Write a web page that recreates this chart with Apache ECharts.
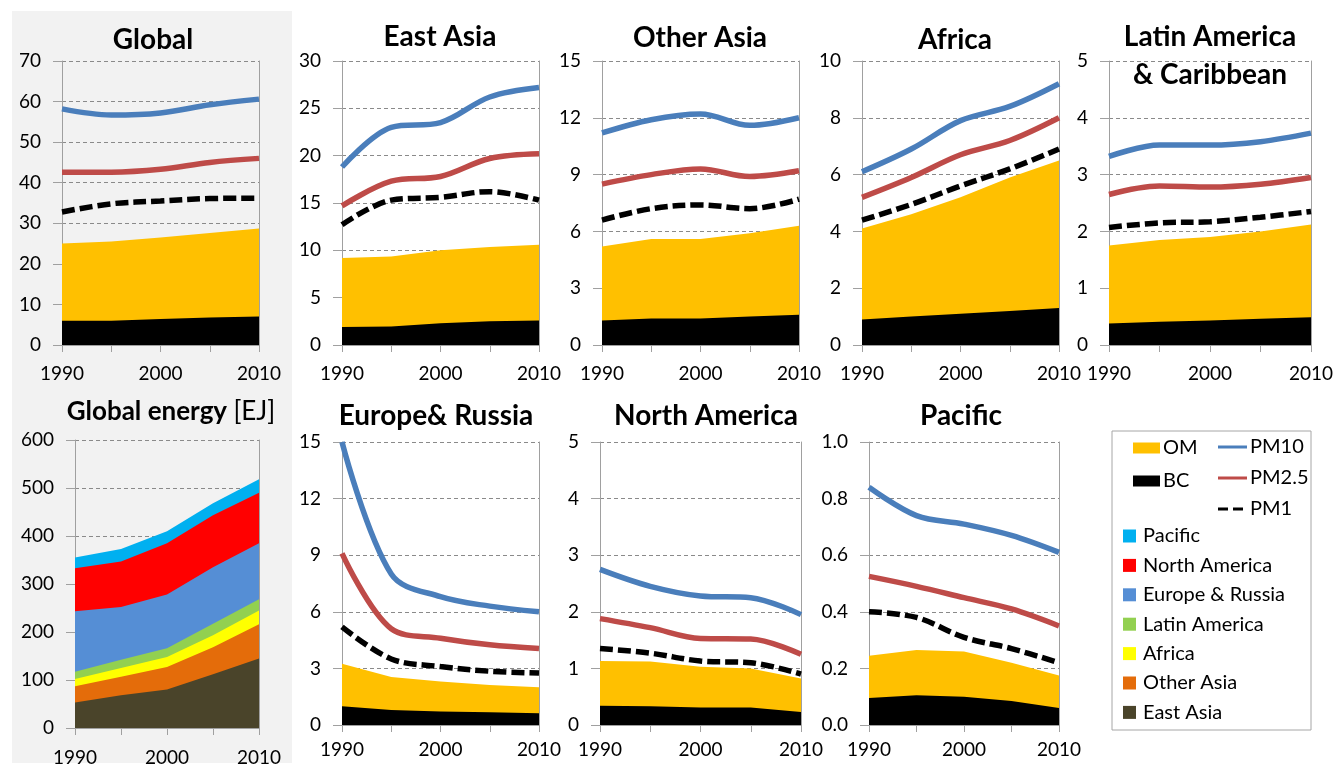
<!DOCTYPE html>
<html><head><meta charset="utf-8">
<script src="https://cdn.jsdelivr.net/npm/echarts@6/dist/echarts.min.js"></script>
<style>html,body{margin:0;padding:0;background:#fff}#c{width:1337px;height:767px}</style>
</head><body><div id="c"></div>
<script>
// ---------- DATA ----------
const years = [1990, 1995, 2000, 2005, 2010];

// Global
const globalBC   = [6.0, 6.0, 6.4, 6.8, 7.0];
const globalOM   = [19.0, 19.5, 20.1, 20.8, 21.7];
const globalPM1  = [32.8, 34.8, 35.5, 36.1, 36.2];
const globalPM25 = [42.6, 42.6, 43.3, 45.0, 46.0];
const globalPM10 = [58.2, 56.7, 57.2, 59.2, 60.6];
// East Asia
const eastAsiaBC   = [1.9, 1.95, 2.3, 2.5, 2.6];
const eastAsiaOM   = [7.3, 7.4, 7.7, 7.85, 8.0];
const eastAsiaPM1  = [12.7, 15.3, 15.6, 16.2, 15.3];
const eastAsiaPM25 = [14.7, 17.3, 17.8, 19.7, 20.2];
const eastAsiaPM10 = [18.8, 23.0, 23.5, 26.2, 27.2];
// Other Asia
const otherAsiaBC   = [1.3, 1.4, 1.4, 1.5, 1.6];
const otherAsiaOM   = [3.9, 4.2, 4.2, 4.4, 4.7];
const otherAsiaPM1  = [6.6, 7.2, 7.4, 7.2, 7.7];
const otherAsiaPM25 = [8.5, 9.0, 9.3, 8.9, 9.2];
const otherAsiaPM10 = [11.2, 11.9, 12.2, 11.6, 12.0];
// Africa
const africaBC   = [0.9, 1.0, 1.1, 1.2, 1.3];
const africaOM   = [3.2, 3.6, 4.1, 4.7, 5.2];
const africaPM1  = [4.4, 4.95, 5.6, 6.2, 6.9];
const africaPM25 = [5.2, 5.9, 6.7, 7.2, 8.0];
const africaPM10 = [6.1, 6.9, 7.9, 8.4, 9.2];
// Latin America & Caribbean
const latamBC   = [0.38, 0.41, 0.43, 0.46, 0.49];
const latamOM   = [1.37, 1.44, 1.47, 1.54, 1.63];
const latamPM1  = [2.07, 2.15, 2.17, 2.25, 2.35];
const latamPM25 = [2.65, 2.8, 2.78, 2.83, 2.95];
const latamPM10 = [3.32, 3.52, 3.52, 3.58, 3.73];
// Europe & Russia
const europeBC   = [1.0, 0.8, 0.72, 0.68, 0.62];
const europeOM   = [2.25, 1.75, 1.58, 1.44, 1.38];
const europePM1  = [5.2, 3.5, 3.1, 2.85, 2.75];
const europePM25 = [9.1, 5.1, 4.6, 4.25, 4.05];
const europePM10 = [15.0, 8.0, 6.8, 6.3, 6.0];
// North America
const northAmBC   = [0.34, 0.33, 0.31, 0.31, 0.23];
const northAmOM   = [0.79, 0.79, 0.72, 0.69, 0.59];
const northAmPM1  = [1.35, 1.27, 1.13, 1.1, 0.9];
const northAmPM25 = [1.88, 1.72, 1.53, 1.52, 1.25];
const northAmPM10 = [2.75, 2.45, 2.28, 2.25, 1.95];
// Pacific
const pacificBC   = [0.095, 0.105, 0.10, 0.085, 0.06];
const pacificOM   = [0.15, 0.16, 0.16, 0.135, 0.115];
const pacificPM1  = [0.40, 0.38, 0.31, 0.27, 0.22];
const pacificPM25 = [0.525, 0.49, 0.45, 0.41, 0.35];
const pacificPM10 = [0.84, 0.74, 0.71, 0.67, 0.61];

// Global energy [EJ] (stacked, by region, bottom to top)
const energyRegions = ['East Asia', 'Other Asia', 'Africa', 'Latin America', 'Europe & Russia', 'North America', 'Pacific'];
const energyEastAsia  = [53, 68, 80, 112, 145];
const energyOtherAsia = [34, 39, 47, 56, 71];
const energyAfrica    = [15, 18, 21, 25, 29];
const energyLatAm     = [15, 17, 18, 24, 23];
const energyEurope    = [126, 110, 112, 118, 117];
const energyNorthAm   = [90, 95, 107, 108, 105];
const energyPacific   = [22, 26, 25, 25, 28];

// axis ranges
const yMax      = [70, 30, 15, 10, 5, 15, 5, 1.0];
const yInterval = [10, 5, 3, 2, 1, 3, 1, 0.2];
const energyMax = 600, energyInterval = 100;

// ---------- STYLE / LAYOUT ----------
const FONT = 'Lato';
const C_PM10 = '#4a7ebb', C_PM25 = '#be4b48', C_PM1 = '#000000', C_OM = '#ffc000', C_BC = '#000000';
const regionColors = ['#4a442a', '#e46c0a', '#ffff00', '#92d050', '#558ed5', '#ff0000', '#00b0f0'];

const pmPanels = [
  {title: 'Global',         bc: globalBC,    om: globalOM,    pm1: globalPM1,    pm25: globalPM25,    pm10: globalPM10},
  {title: 'East Asia',      bc: eastAsiaBC,  om: eastAsiaOM,  pm1: eastAsiaPM1,  pm25: eastAsiaPM25,  pm10: eastAsiaPM10},
  {title: 'Other Asia',     bc: otherAsiaBC, om: otherAsiaOM, pm1: otherAsiaPM1, pm25: otherAsiaPM25, pm10: otherAsiaPM10},
  {title: 'Africa',         bc: africaBC,    om: africaOM,    pm1: africaPM1,    pm25: africaPM25,    pm10: africaPM10},
  {title: 'Latin America\n& Caribbean', bc: latamBC, om: latamOM, pm1: latamPM1, pm25: latamPM25, pm10: latamPM10},
  {title: 'Europe& Russia', bc: europeBC,    om: europeOM,    pm1: europePM1,    pm25: europePM25,    pm10: europePM10},
  {title: 'North America',  bc: northAmBC,   om: northAmOM,   pm1: northAmPM1,   pm25: northAmPM25,   pm10: northAmPM10},
  {title: 'Pacific',        bc: pacificBC,   om: pacificOM,   pm1: pacificPM1,   pm25: pacificPM25,   pm10: pacificPM10}
];
const pmLayout = [
  {grid: {left: 62,  top: 61,  width: 197, height: 284}, tx: 153,  ty: 40,  xm: 19},
  {grid: {left: 342, top: 61,  width: 197, height: 284}, tx: 440,  ty: 37,  xm: 19},
  {grid: {left: 602, top: 61,  width: 197, height: 284}, tx: 700,  ty: 38,  xm: 19},
  {grid: {left: 862, top: 61,  width: 197, height: 284}, tx: 955,  ty: 40,  xm: 19},
  {grid: {left: 1109, top: 61, width: 202, height: 284}, tx: 1210, ty: 56,  xm: 19},
  {grid: {left: 342, top: 442, width: 197, height: 283}, tx: 436,  ty: 416, xm: 15},
  {grid: {left: 600, top: 442, width: 201, height: 283}, tx: 706,  ty: 416, xm: 15},
  {grid: {left: 869, top: 442, width: 190, height: 283}, tx: 961,  ty: 416, xm: 15}
];
const energyLayout = {grid: {left: 75, top: 440, width: 184, height: 288}, tx: 171, ty: 412, xm: 20};

const AXIS_COLOR = '#a0a0a0';
const GRID_LINE = '#8a8a8a';
const TICK_FS = 19, TITLE_FS = 28, ENERGY_TITLE_FS = 26, LEGEND_FS = 20, LINE_W = 5.5;

function xAxisFor(gi, margin) {
  return {
    type: 'value', gridIndex: gi, min: 1990, max: 2010, interval: 5,
    axisLine: {show: true, lineStyle: {color: AXIS_COLOR, width: 1}},
    axisTick: {show: true, length: 7, lineStyle: {color: AXIS_COLOR}},
    axisLabel: {margin: margin, fontFamily: FONT, fontSize: TICK_FS, color: '#000',
      formatter: v => (v % 10 === 0 ? String(v) : '')},
    splitLine: {show: false}
  };
}
function yAxesFor(gi, max, interval, decimals) {
  return [{
    type: 'value', gridIndex: gi, min: 0, max: max, interval: interval,
    axisLine: {show: true, lineStyle: {color: AXIS_COLOR, width: 1}},
    axisTick: {show: true, length: 9, lineStyle: {color: AXIS_COLOR}},
    axisLabel: {margin: 21, fontFamily: FONT, fontSize: TICK_FS, color: '#000',
      formatter: v => v.toFixed(decimals)},
    splitLine: {show: true, lineStyle: {color: GRID_LINE, type: [4, 3], width: 1}}
  }, {
    type: 'value', gridIndex: gi, min: 0, max: max, position: 'right',
    axisLine: {show: true, onZero: false, lineStyle: {color: AXIS_COLOR, width: 1}},
    axisTick: {show: false}, axisLabel: {show: false}, splitLine: {show: false}
  }];
}
const pts = arr => years.map((y, k) => [y, arr[k]]);
// cumulative tops of stacked layers (bottom to top)
function cumulate(layers) {
  const out = []; let run = years.map(() => 0);
  layers.forEach(l => { run = run.map((v, k) => v + l[k]); out.push(run.slice()); });
  return out;
}

const grids = [], xAxes = [], yAxes = [], series = [], titles = [];
const titleStyle = {fontFamily: FONT, fontWeight: 'bold', fontSize: TITLE_FS, color: '#000', lineHeight: 38};

pmPanels.forEach((p, i) => {
  const L = pmLayout[i];
  grids.push(Object.assign({containLabel: false}, L.grid));
  xAxes.push(xAxisFor(i, L.xm));
  yAxes.push(...yAxesFor(i, yMax[i], yInterval[i], i === 7 ? 1 : 0));
  titles.push({text: p.title, left: L.tx, top: L.ty, textAlign: 'center', textVerticalAlign: 'middle', padding: 0, textStyle: titleStyle});
  const yi = 2 * i;
  const area = (name, data, color) => ({
    name, type: 'line', xAxisIndex: i, yAxisIndex: yi, data: pts(data),
    symbol: 'none', lineStyle: {width: 0}, areaStyle: {color, opacity: 1, origin: 'start'}, z: 2, silent: true
  });
  const line = (name, data, color, dash) => ({
    name, type: 'line', xAxisIndex: i, yAxisIndex: yi, data: pts(data), smooth: 0.35,
    symbol: 'none', lineStyle: {width: LINE_W, color, type: dash || 'solid', cap: 'butt'}, z: 3, silent: true
  });
  const tops = cumulate([p.bc, p.om]);
  // paint top layer first so lower layers cover it
  series.push(area('OM', tops[1], C_OM), area('BC', tops[0], C_BC),
    line('PM10', p.pm10, C_PM10), line('PM2.5', p.pm25, C_PM25), line('PM1', p.pm1, C_PM1, [13, 5]));
});

// Global energy panel
const ei = pmPanels.length;
grids.push(Object.assign({containLabel: false}, energyLayout.grid));
xAxes.push(xAxisFor(ei, energyLayout.xm));
yAxes.push(...yAxesFor(ei, energyMax, energyInterval, 0));
titles.push({text: '{b|Global energy} {n|[EJ]}', left: energyLayout.tx, top: energyLayout.ty, textAlign: 'center', textVerticalAlign: 'middle', padding: 0,
  textStyle: {fontFamily: FONT, fontSize: ENERGY_TITLE_FS, color: '#000',
    rich: {b: {fontFamily: FONT, fontSize: ENERGY_TITLE_FS, fontWeight: 'bold', color: '#000'}, n: {fontFamily: FONT, fontSize: ENERGY_TITLE_FS, fontWeight: 'normal', color: '#000'}}}});
const energyData = [energyEastAsia, energyOtherAsia, energyAfrica, energyLatAm, energyEurope, energyNorthAm, energyPacific];
const energyTops = cumulate(energyData);
for (let k = energyTops.length - 1; k >= 0; k--) {
  series.push({name: energyRegions[k], type: 'line', xAxisIndex: ei, yAxisIndex: 2 * ei, data: pts(energyTops[k]),
    symbol: 'none', lineStyle: {width: 0}, areaStyle: {color: regionColors[k], opacity: 1, origin: 'start'}, z: 2, silent: true});
}

// ---------- LEGEND (graphic) ----------
const legendBox = {x: 1112, y: 431, w: 199, h: 299};
const fillItems = [{name: 'OM', color: C_OM}, {name: 'BC', color: C_BC}];
const lineItems = [{name: 'PM10', color: C_PM10, dash: null}, {name: 'PM2.5', color: C_PM25, dash: null}, {name: 'PM1', color: C_PM1, dash: [10, 5]}];
const regionLegendOrder = [6, 5, 4, 3, 2, 1, 0];
const gEls = [];
gEls.push({type: 'rect', z: -100, silent: true, shape: {x: 12, y: 11, width: 280, height: 752}, style: {fill: '#f2f2f2'}});
gEls.push({type: 'rect', z: 10, silent: true, shape: {x: legendBox.x, y: legendBox.y, width: legendBox.w, height: legendBox.h}, style: {fill: '#fff', stroke: '#a6a6a6', lineWidth: 1}});
const txt = (x, y, s) => ({type: 'text', z: 11, silent: true, x, y, style: {text: s, fill: '#000', font: LEGEND_FS + 'px ' + FONT, verticalAlign: 'middle'}});
fillItems.forEach((it, k) => {
  const cy = 448 + k * 33;
  gEls.push({type: 'rect', z: 11, silent: true, shape: {x: 1133, y: cy - 5.5, width: 27, height: 11}, style: {fill: it.color}});
  gEls.push(txt(1163, cy, it.name));
});
lineItems.forEach((it, k) => {
  const cy = 447 + k * 31;
  gEls.push({type: 'line', z: 11, silent: true, shape: {x1: 1218, y1: cy, x2: 1247, y2: cy},
    style: {stroke: it.color, lineWidth: 3, lineDash: it.dash || null}});
  gEls.push(txt(1250, cy, it.name));
});
regionLegendOrder.forEach((ri, k) => {
  const cy = 536 + k * 29.4;
  gEls.push({type: 'rect', z: 11, silent: true, shape: {x: 1123, y: cy - 6.5, width: 13, height: 13}, style: {fill: regionColors[ri]}});
  gEls.push(txt(1143, cy, energyRegions[ri]));
});

const chart = echarts.init(document.getElementById('c'), null, {renderer: 'canvas'});
chart.setOption({
  animation: false,
  backgroundColor: '#ffffff',
  title: titles,
  grid: grids,
  xAxis: xAxes,
  yAxis: yAxes,
  series: series,
  graphic: {elements: gEls}
});
</script></body></html>
